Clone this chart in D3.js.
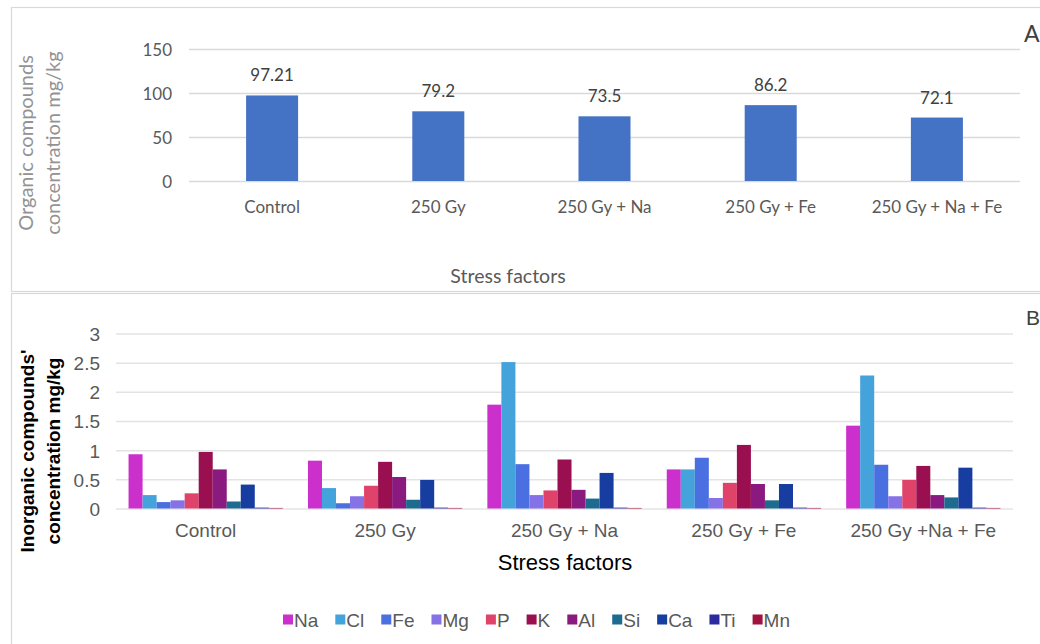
<!DOCTYPE html>
<html>
<head>
<meta charset="utf-8">
<script src="https://cdn.jsdelivr.net/npm/d3@7"></script>
<style>
  html, body { margin: 0; padding: 0; background: #fff; }
  svg { display: block; }
</style>
</head>
<body>
<svg id="chart" width="1040" height="644"></svg>
<script>
// ---- Panel A data ----
const topCategories = ["Control", "250 Gy", "250 Gy + Na", "250 Gy + Fe", "250 Gy + Na + Fe"];
const topValues = [97.21, 79.2, 73.5, 86.2, 72.1];
const topLabels = ["97.21", "79.2", "73.5", "86.2", "72.1"];
const topTicks = [0, 50, 100, 150];

// ---- Panel B data ----
const bottomCategories = ["Control", "250 Gy", "250 Gy + Na", "250 Gy + Fe", "250 Gy +Na + Fe"];
const elements = ["Na", "Cl", "Fe", "Mg", "P", "K", "Al", "Si", "Ca", "Ti", "Mn"];
const Na = [0.93, 0.82, 1.78, 0.67, 1.42];
const Cl = [0.23, 0.35, 2.51, 0.67, 2.28];
const Fe = [0.11, 0.09, 0.76, 0.87, 0.75];
const Mg = [0.14, 0.21, 0.23, 0.18, 0.21];
const P  = [0.26, 0.39, 0.31, 0.44, 0.49];
const K  = [0.97, 0.80, 0.84, 1.09, 0.73];
const Al = [0.67, 0.54, 0.32, 0.42, 0.23];
const Si = [0.12, 0.15, 0.17, 0.14, 0.19];
const Ca = [0.41, 0.49, 0.61, 0.42, 0.70];
const Ti = [0.015, 0.015, 0.015, 0.015, 0.015];
const Mn = [0.01, 0.01, 0.01, 0.01, 0.01];
const bottomTicks = [0, 0.5, 1, 1.5, 2, 2.5, 3];
const bottomTickLabels = ["0", "0.5", "1", "1.5", "2", "2.5", "3"];

const seriesValues = { Na, Cl, Fe, Mg, P, K, Al, Si, Ca, Ti, Mn };
const colors = ["#cc30cc", "#45a3dc", "#4a6fe0", "#8472e6", "#e0436a", "#9a0f50", "#8a1a80", "#1e6b90", "#173da0", "#2b2a9e", "#a0123f"];

const svg = d3.select("#chart");

// Panel borders
svg.append("rect").attr("x", 11.5).attr("y", 7.5).attr("width", 1060).attr("height", 284)
  .attr("fill", "none").attr("stroke", "#d9d9d9").attr("stroke-width", 1.2);
svg.append("rect").attr("x", 11.5).attr("y", 293.5).attr("width", 1060).attr("height", 400)
  .attr("fill", "none").attr("stroke", "#d9d9d9").attr("stroke-width", 1.2);

// ================= Panel A =================
const fontA = "Lato, 'Open Sans', sans-serif";
const xA = d3.scaleBand().domain(topCategories).range([189, 1020]).paddingInner(0.687).paddingOuter(0.3435);
const yA = d3.scaleLinear().domain([0, 150]).range([181, 49]);
const gA = svg.append("g");

const yAxisA = d3.axisLeft(yA).tickValues(topTicks).tickSize(-(1020 - 189)).tickPadding(17);
gA.append("g").attr("transform", "translate(189,0)").call(yAxisA)
  .call(g => g.select(".domain").remove())
  .call(g => g.selectAll(".tick line").attr("stroke", "#d9d9d9").attr("stroke-width", 1.3))
  .call(g => g.selectAll(".tick text").attr("fill", "#595959").attr("font-size", 17).attr("font-family", fontA).attr("dy", "0.36em"));

gA.selectAll("rect.bar").data(topValues).enter().append("rect")
  .attr("class", "bar")
  .attr("x", (d, i) => xA(topCategories[i]))
  .attr("width", xA.bandwidth())
  .attr("y", d => yA(d))
  .attr("height", d => yA(0) - yA(d))
  .attr("fill", "#4472c4");

gA.selectAll("text.val").data(topValues).enter().append("text")
  .attr("class", "val")
  .attr("x", (d, i) => xA(topCategories[i]) + xA.bandwidth() / 2)
  .attr("y", d => yA(d) - 14)
  .attr("text-anchor", "middle")
  .attr("font-family", fontA).attr("font-size", 17).attr("fill", "#404040")
  .text((d, i) => topLabels[i]);

const xAxisA = d3.axisBottom(xA).tickSize(0).tickPadding(20);
gA.append("g").attr("transform", "translate(0,181)").call(xAxisA)
  .call(g => g.select(".domain").remove())
  .call(g => g.selectAll(".tick text").attr("fill", "#595959").attr("font-size", 17).attr("font-family", fontA));

gA.append("text").attr("x", 508).attr("y", 283).attr("text-anchor", "middle")
  .attr("font-family", fontA).attr("font-size", 19.5).attr("fill", "#595959").text("Stress factors");

const yTitleA = gA.append("text").attr("transform", "translate(33,143) rotate(-90)")
  .attr("text-anchor", "middle").attr("font-family", fontA).attr("font-size", 20).attr("fill", "#939393");
yTitleA.append("tspan").attr("x", 0).attr("y", 0).text("Organic compounds");
yTitleA.append("tspan").attr("x", 0).attr("y", 27).text("concentration mg/kg");

gA.append("text").attr("x", 1024).attr("y", 42).attr("font-family", fontA).attr("font-size", 23).attr("fill", "#404040").text("A");

// ================= Panel B =================
const fontB = "'Liberation Sans', Arial, sans-serif";
const xB = d3.scaleBand().domain(bottomCategories).range([116, 1013]).paddingInner(0.14).paddingOuter(0.07);
const xInner = d3.scaleBand().domain(elements).range([0, xB.bandwidth()]);
const yB = d3.scaleLinear().domain([0, 3]).range([508.5, 333.5]);
const gB = svg.append("g");

const yAxisB = d3.axisLeft(yB).tickValues(bottomTicks).tickFormat((d, i) => bottomTickLabels[i]).tickSize(-(1013 - 116)).tickPadding(16);
gB.append("g").attr("transform", "translate(116,0)").call(yAxisB)
  .call(g => g.select(".domain").remove())
  .call(g => g.selectAll(".tick line").attr("stroke", "#e3e3e3").attr("stroke-width", 1.5))
  .call(g => g.selectAll(".tick text").attr("fill", "#595959").attr("font-size", 19).attr("font-family", fontB).attr("dy", "0.36em"));

const groups = gB.selectAll("g.grp").data(bottomCategories).enter().append("g")
  .attr("class", "grp").attr("transform", d => `translate(${xB(d)},0)`);
groups.selectAll("rect").data((c, ci) => elements.map((e, ei) => ({ e, ei, v: seriesValues[e][ci] })))
  .enter().append("rect")
  .attr("x", d => xInner(d.e))
  .attr("width", xInner.bandwidth())
  .attr("y", d => yB(d.v))
  .attr("height", d => yB(0) - yB(d.v))
  .attr("fill", d => colors[d.ei]);

const xAxisB = d3.axisBottom(xB).tickSize(0).tickPadding(15);
gB.append("g").attr("transform", "translate(0,508.5)").call(xAxisB)
  .call(g => g.select(".domain").remove())
  .call(g => g.selectAll(".tick text").attr("fill", "#595959").attr("font-size", 19).attr("font-family", fontB));

gB.append("text").attr("x", 565).attr("y", 570).attr("text-anchor", "middle")
  .attr("font-family", fontB).attr("font-size", 22).attr("fill", "#000").text("Stress factors");

const yTitleB = gB.append("text").attr("transform", "translate(34,451) rotate(-90)")
  .attr("text-anchor", "middle").attr("font-family", fontB).attr("font-size", 19).attr("font-weight", "bold").attr("fill", "#000");
yTitleB.append("tspan").attr("x", 0).attr("y", 0).text("Inorganic compounds'");
yTitleB.append("tspan").attr("x", 0).attr("y", 26).text("concentration mg/kg");

gB.append("text").attr("x", 1026).attr("y", 325).attr("font-family", fontB).attr("font-size", 21).attr("fill", "#404040").text("B");

// Legend
const legend = gB.append("g").attr("transform", "translate(283,627)");
const legendItems = elements.map((e, i) => {
  const it = legend.append("g");
  it.append("rect").attr("x", 0).attr("y", -12.5).attr("width", 10).attr("height", 10).attr("fill", colors[i]);
  const t = it.append("text").attr("x", 11).attr("y", 0).attr("font-family", fontB).attr("font-size", 19).attr("fill", "#595959").text(e);
  return { it, w: 11 + t.node().getComputedTextLength() };
});
const legendSpan = 507;
const sumW = d3.sum(legendItems, d => d.w);
const gap = (legendSpan - sumW) / (legendItems.length - 1);
let lx = 0;
legendItems.forEach(d => { d.it.attr("transform", `translate(${lx},0)`); lx += d.w + gap; });
</script>
</body>
</html>
